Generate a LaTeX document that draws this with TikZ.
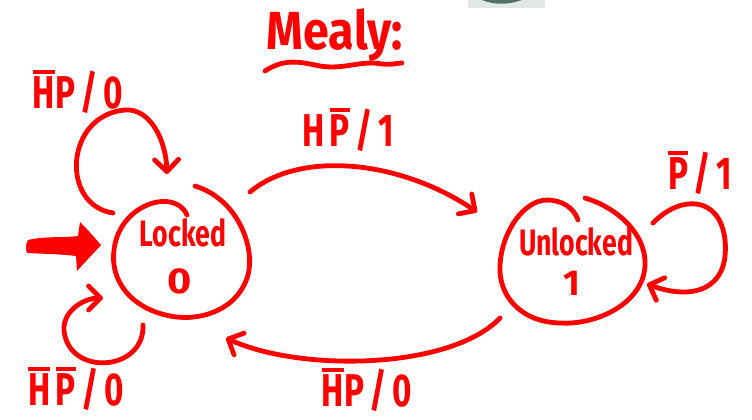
\documentclass[tikz,border=0pt]{standalone}
\usepackage{fontspec}
\setmainfont{Fira Sans}
\usetikzlibrary{arrows.meta}
\definecolor{ink}{RGB}{255,0,0}
\definecolor{slate}{RGB}{84,112,102}
\definecolor{haze}{RGB}{226,232,229}
% letter with a heavy bar above it (negated input)
\newcommand\notsig[1]{\leavevmode\setbox0\hbox{#1}\vbox{\hrule height 2.1pt\kern 1.8pt\box0}}
% tall, narrow lettering
\newcommand\tall[2][1.38]{\scalebox{1}[#1]{#2}}
\tikzset{
  pen/.style={draw=ink, line width=3.6pt, line cap=round, line join=round},
  tip/.style={-{Straight Barb[length=9pt,width=18pt,round]}},
  lbl/.style={text=ink, inner sep=0pt, font=\bfseries\fontsize{25}{28}\selectfont},
  stname/.style={text=ink, inner sep=0pt, font=\bfseries\fontsize{20}{22}\selectfont},
  stout/.style={text=ink, inner sep=0pt, font=\bfseries\fontsize{27}{30}\selectfont},
}
\begin{document}
\begin{tikzpicture}[x=0.75pt,y=-0.75pt]
\useasboundingbox (0,0) rectangle (752,420);

% scrap of an object cut off at the top edge
\fill[haze] (468,0) rectangle (545,8);
\fill[slate] (482,0) .. controls (494,5) and (508,5) .. (522,0) -- cycle;

% title
\node[text=ink, inner sep=0pt, font=\bfseries\fontsize{35}{38}\selectfont] (title) at (335,35) {\tall[1.15]{Mealy:}};
\draw[pen] (265,71) .. controls (285,58) and (300,62) .. (320,66)
           .. controls (345,70) and (360,60) .. (382,64) .. controls (392,65) and (398,63) .. (402,63);

% states
\node[stname] (L) at (183,233) {\tall{Locked}};
\node[stout] (L0) at (180,281) {\scalebox{1.15}[1]{0}};
\draw[pen] (195,186) .. controls (240,200) and (255,250) .. (248,275)
           .. controls (238,310) and (200,322) .. (170,316)
           .. controls (130,308) and (110,280) .. (114,250)
           .. controls (118,215) and (150,198) .. (170,202)
           .. controls (180,204) and (185,210) .. (187,215);

\node[stname] (U) at (576,242) {\tall{Unlocked}};
\node[stout] (U1) at (572,283) {1};
\draw[pen] (585,198) .. controls (625,210) and (655,245) .. (642,280)
           .. controls (630,310) and (590,325) .. (560,323)
           .. controls (520,322) and (498,295) .. (500,265)
           .. controls (502,230) and (525,200) .. (547,200)
           .. controls (562,200) and (574,208) .. (578,220);

% start marker
\fill[ink] (28,240) .. controls (45,236) and (62,238) .. (78,236)
   -- (80,222) .. controls (88,230) and (95,238) .. (101,245)
   .. controls (93,254) and (85,262) .. (77,271)
   -- (76,256) .. controls (60,254) and (45,254) .. (27,253)
   .. controls (25,248) and (26,244) .. (28,240) -- cycle;

% connector end points
\coordinate (lu0) at (250,192);
\coordinate (lu1) at (477,212);
\coordinate (ul0) at (500,318);
\coordinate (ul1) at (226,338);
\coordinate (la0) at (113,213);
\coordinate (la1) at (167,174);
\coordinate (lb0) at (143,325);
\coordinate (lb1) at (103,298);
\coordinate (ua0) at (653,223);
\coordinate (ua1) at (647,284);

% transitions
\draw[pen, tip] (lu0) .. controls (300,150) and (400,160) .. (lu1);
\draw[pen, tip] (ul0) .. controls (450,370) and (300,372) .. (ul1);
\draw[pen, tip] (la0) .. controls (60,205) and (65,115) .. (125,110)
                      .. controls (150,108) and (166,140) .. (la1);
\draw[pen, tip] (lb0) .. controls (145,372) and (68,377) .. (64,330)
                      .. controls (63,310) and (85,298) .. (lb1);
\draw[pen, tip] (ua0) .. controls (680,195) and (720,195) .. (725,240)
                      .. controls (730,292) and (690,300) .. (ua1);

% transition labels
\node[lbl] (t1) at (78,92) {\tall{\notsig{H}P\,/\,0}};
\node[lbl] (t2) at (348,130) {\tall{H\,\notsig{P}\,/\,1}};
\node[lbl] (t3) at (700,173) {\tall{\notsig{P}\,/\,1}};
\node[lbl] (t4) at (367,390) {\tall{\notsig{H}P\,/\,0}};
\node[lbl] (t5) at (76,389) {\tall{\notsig{H}\,\notsig{P}\,/\,0}};
\end{tikzpicture}
\end{document}
